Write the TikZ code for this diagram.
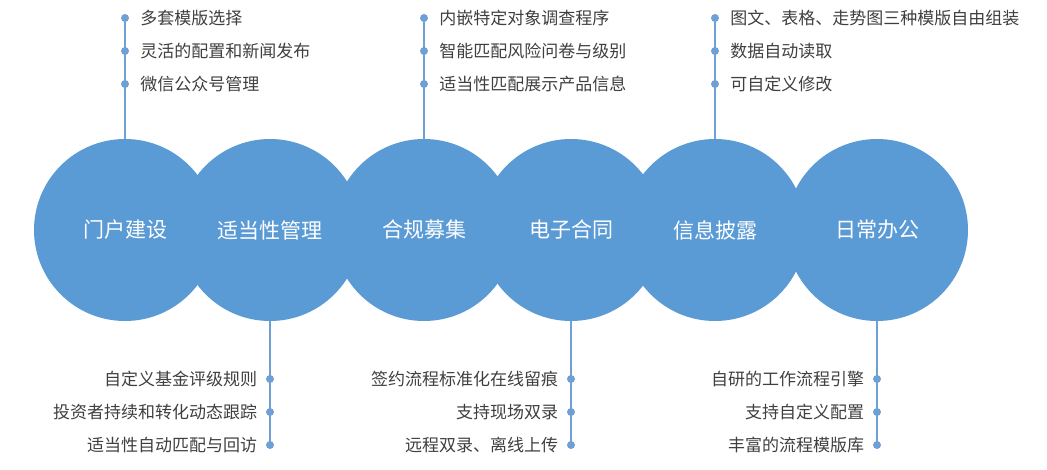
\documentclass[tikz,border=0pt]{standalone}
\usepackage{fontspec}
\usepackage{xcolor}
\usepackage{tikz}
\usetikzlibrary{positioning}
\newfontfamily\cjk{Noto Sans CJK SC}
\definecolor{DiscBlue}{HTML}{5B9BD5}
\definecolor{StemBlue}{HTML}{6FA0D4}
\definecolor{NoteGray}{HTML}{3F3F3F}

\begin{document}
\begin{tikzpicture}[x=1pt,y=-1pt,
  disc/.style={circle, fill=DiscBlue, minimum size=182pt, inner sep=0pt, text=white, font=\cjk\fontsize{21}{25}\selectfont},
  knot/.style={circle, fill=StemBlue, minimum size=8pt, inner sep=0pt},
  stem/.style={StemBlue, line width=1.5pt},
  note/.style={inner sep=0pt, text=NoteGray, font=\cjk\fontsize{17}{20}\selectfont}]
\useasboundingbox (0,0) rectangle (1047,469);
% the six discs
\node[disc] (d1) at (125,230) {门户建设};
\node[disc] (d2) at (270,230) {适当性管理};
\node[disc] (d3) at (424,230) {合规募集};
\node[disc] (d4) at (571,230) {电子合同};
\node[disc] (d5) at (715,230) {信息披露};
\node[disc] (d6) at (877,230) {日常办公};
% stems above
\node[knot] (t1a) at (125,18) {};
\node[knot] (t1b) at (125,51) {};
\node[knot] (t1c) at (125,84) {};
\draw[stem] (t1a.center) -- (d1.north);
\node[note, right=11pt of t1a] {多套模版选择};
\node[note, right=11pt of t1b] {灵活的配置和新闻发布};
\node[note, right=11pt of t1c] {微信公众号管理};

\node[knot] (t3a) at (424,18) {};
\node[knot] (t3b) at (424,51) {};
\node[knot] (t3c) at (424,84) {};
\draw[stem] (t3a.center) -- (d3.north);
\node[note, right=11pt of t3a] {内嵌特定对象调查程序};
\node[note, right=11pt of t3b] {智能匹配风险问卷与级别};
\node[note, right=11pt of t3c] {适当性匹配展示产品信息};

\node[knot] (t5a) at (715,18) {};
\node[knot] (t5b) at (715,51) {};
\node[knot] (t5c) at (715,84) {};
\draw[stem] (t5a.center) -- (d5.north);
\node[note, right=11pt of t5a] {图文、表格、走势图三种模版自由组装};
\node[note, right=11pt of t5b] {数据自动读取};
\node[note, right=11pt of t5c] {可自定义修改};
% stems below
\node[knot] (b2a) at (270,379) {};
\node[knot] (b2b) at (270,412) {};
\node[knot] (b2c) at (270,445) {};
\draw[stem] (d2.south) -- (b2c.center);
\node[note, left=8.5pt of b2a] {自定义基金评级规则};
\node[note, left=8.5pt of b2b] {投资者持续和转化动态跟踪};
\node[note, left=8.5pt of b2c] {适当性自动匹配与回访};

\node[knot] (b4a) at (571,379) {};
\node[knot] (b4b) at (571,412) {};
\node[knot] (b4c) at (571,445) {};
\draw[stem] (d4.south) -- (b4c.center);
\node[note, left=8.5pt of b4a] {签约流程标准化在线留痕};
\node[note, left=8.5pt of b4b] {支持现场双录};
\node[note, left=8.5pt of b4c] {远程双录、离线上传};

\node[knot] (b6a) at (877,379) {};
\node[knot] (b6b) at (877,412) {};
\node[knot] (b6c) at (877,445) {};
\draw[stem] (d6.south) -- (b6c.center);
\node[note, left=8.5pt of b6a] {自研的工作流程引擎};
\node[note, left=8.5pt of b6b] {支持自定义配置};
\node[note, left=8.5pt of b6c] {丰富的流程模版库};
\end{tikzpicture}
\end{document}
